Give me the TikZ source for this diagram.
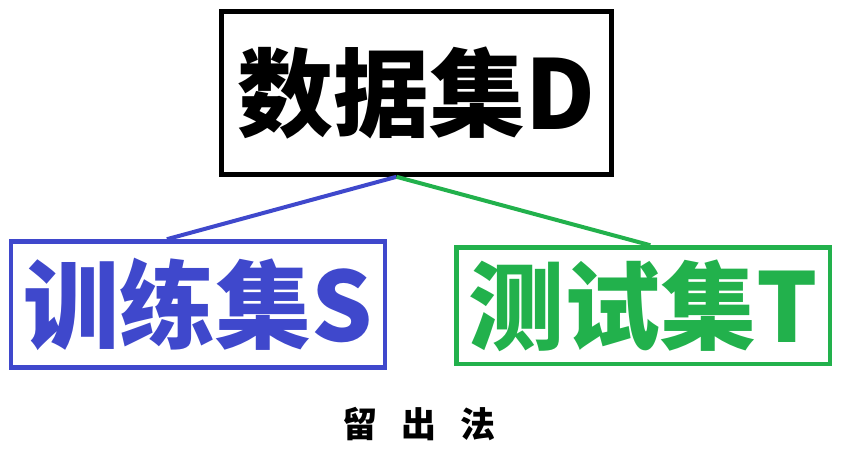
\documentclass[tikz,border=0pt]{standalone}
\usepackage{fontspec}
\newfontfamily\cjk{Noto Sans CJK SC}
\newfontfamily\capcjk[WordSpace=3]{Noto Sans CJK SC}
\definecolor{trainblue}{RGB}{63,72,204}
\definecolor{testgreen}{RGB}{34,177,76}
\begin{document}
\begin{tikzpicture}[x=1pt, y=-1pt,
        setbox/.style={draw, line width=4.6pt, inner sep=0pt, font=\cjk\bfseries\fontsize{96}{100}\selectfont},
        splitline/.style={line width=4pt}]
        \useasboundingbox (0,0) rectangle (844,455);

        % Full data set
        \node[setbox, minimum width=390pt, minimum height=163pt] (data) at (416.5,93) {数据集D};

        % Training and test sets
        \node[setbox, trainblue, minimum width=374pt, minimum height=126pt] (train) at (197.9,304.5) {训练集S};
        \node[setbox, testgreen, minimum width=373.5pt, minimum height=116.5pt] (test) at (643.3,305.8) {测试集T};

        % Split lines
        \draw[splitline, trainblue] ([xshift=-20pt]data.south) -- ([xshift=-31pt]train.north);
        \draw[splitline, testgreen] ([xshift=-20pt]data.south) -- ([xshift=7pt]test.north);

        % Method name
        \node[font=\capcjk\bfseries\fontsize{35}{40}\selectfont] (method) at (419,424) {留 出 法};
    \end{tikzpicture}
\end{document}
